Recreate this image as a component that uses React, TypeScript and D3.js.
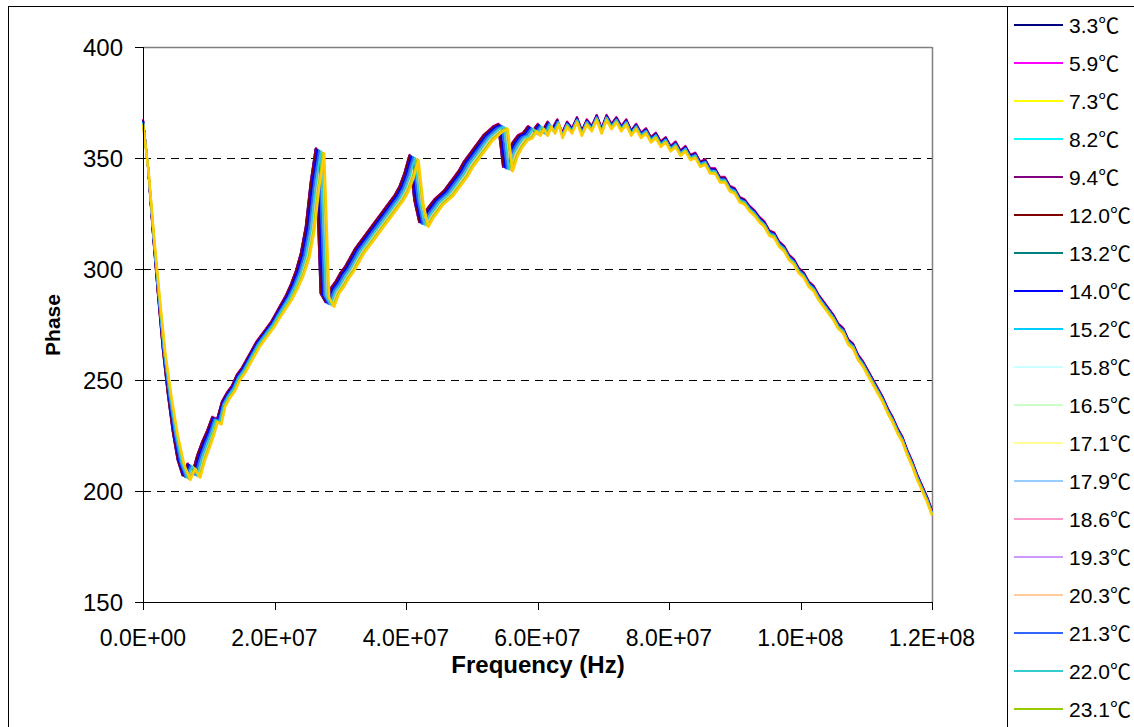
import * as d3 from "d3";

// legend labels (the picture's legend is cut off after 23.1℃)
const tempLabels = [
  "3.3", "5.9", "7.3", "8.2", "9.4", "12.0", "13.2", "14.0", "15.2", "15.8",
  "16.5", "17.1", "17.9", "18.6", "19.3", "20.3", "21.3", "22.0", "23.1",
];

// series colours, last one (gold) has no visible legend entry
const seriesColors = [
  "#000080", "#FF00FF", "#FFFF00", "#00FFFF", "#800080", "#800000", "#008080", "#0000FF",
  "#00CCFF", "#CCFFFF", "#CCFFCC", "#FFFF99", "#99CCFF", "#FF99CC", "#CC99FF", "#FFCC99",
  "#3366FF", "#33CCCC", "#99CC00", "#FFCC00",
];

// how far each series' resonances sit to the right of the earliest one (0..1 of the lag profile)
const seriesLag = [
  0, 0.05, 0.1, 0.35, 0, 0.05, 0.3, 0.2, 0.5, 0.55,
  0.6, 0.65, 0.6, 0.55, 0.7, 0.75, 0.4, 0.6, 0.9, 1.0,
];
// small vertical spread of the bundle
const seriesOffset = [
  1.2, 1.5, 1.0, 0.6, 1.0, 1.2, 0.4, 0.8, 0.2, 0, -0.2, -0.2, 0, 0, -0.4, -0.3, 0.3, 0, -0.6, -1.0,
];

// lag of the resonance features (MHz) along the sweep
const lagAnchorMHz = [0, 3, 6, 9, 12, 20, 24, 58, 64, 120];
const lagMHz = [0, 0.4, 1.2, 1.2, 0.5, 0.5, 1.3, 1.5, 0, 0];

// sweep step and phase of the earliest series, 0 .. 120 MHz
const freqStepMHz = 0.75;
const basePhase = [
  366, 345, 315, 288, 263, 243, 226, 213, 206, 211,
  207, 215, 221, 226, 232, 231, 239, 243, 246, 251,
  254, 258, 262, 266, 269, 272, 275, 279, 283, 287,
  292, 298, 306, 318, 338, 353, 288, 284, 290, 293,
  297, 300, 304, 308, 311, 314, 317, 320, 323, 326,
  329, 332, 336, 342, 350, 330, 320, 324, 327, 330,
  332, 334, 337, 340, 343, 347, 350, 353, 356, 359,
  361, 363, 364, 345, 352, 356, 359, 360, 363, 361,
  364, 361, 365, 362, 366, 360, 365, 362, 367, 361,
  366, 363, 368, 362, 368, 364, 367, 363, 366, 361,
  364, 360, 362, 358, 360, 356, 358, 354, 356, 352,
  354, 350, 351, 347, 348, 344, 344, 340, 340, 336,
  335, 331, 330, 327, 325, 322, 320, 316, 315, 311,
  309, 305, 303, 299, 297, 293, 291, 287, 284, 281,
  278, 274, 272, 267, 265, 260, 257, 253, 249, 245,
  241, 236, 232, 227, 223, 217, 212, 206, 201, 196,
  190,
];

const xTicks = [0, 2e7, 4e7, 6e7, 8e7, 1e8, 1.2e8];
const yTicks = [150, 200, 250, 300, 350, 400];
const gridValues = [200, 250, 300, 350];

const W = 1134;
const H = 727;
const plot = { left: 143, top: 47, right: 932, bottom: 602 };
const font = "'Liberation Sans', Arial, sans-serif";

const fmtExp = (v: number) => {
  const [m, e] = v.toExponential(1).split("e");
  return `${m}E${e[0]}${e.slice(1).padStart(2, "0")}`;
};

export default function App() {
  const x = d3.scaleLinear().domain([0, 1.2e8]).range([plot.left, plot.right]);
  const y = d3.scaleLinear().domain([150, 400]).range([plot.bottom, plot.top]);
  const lag = d3.scaleLinear().domain(lagAnchorMHz).range(lagMHz).clamp(true);

  const line = d3
    .line<{ f: number; p: number }>()
    .x((d) => x(d.f))
    .y((d) => y(d.p));

  const series = seriesColors.map((color, s) => ({
    color,
    points: basePhase.map((p, i) => {
      const f = i * freqStepMHz;
      return { f: (f + seriesLag[s] * lag(f)) * 1e6, p: p + seriesOffset[s] };
    }),
  }));

  const legendX = 1007;
  const legendTop = 25;
  const legendStep = 38;

  return (
    <svg
      width={W}
      height={H}
      style={{ position: "absolute", left: 0, top: 0, background: "#fff" }}
    >
      <rect x={0} y={0} width={W} height={H} fill="#fff" />
      {/* chart area frame */}
      <rect x={8.5} y={6.5} width={1300} height={900} fill="none" stroke="#000" strokeWidth={1} />
      <line x1={legendX + 0.5} x2={legendX + 0.5} y1={6} y2={H} stroke="#000" />

      {/* grid */}
      {gridValues.map((v) => (
        <line
          key={v}
          x1={plot.left}
          x2={plot.right}
          y1={Math.round(y(v)) + 0.5}
          y2={Math.round(y(v)) + 0.5}
          stroke="#000"
          strokeDasharray="8,6"
        />
      ))}
      {/* plot border top/right */}
      <line x1={plot.left} x2={plot.right} y1={plot.top + 0.5} y2={plot.top + 0.5} stroke="#808080" strokeWidth={1.5} />
      <line x1={plot.right + 0.5} x2={plot.right + 0.5} y1={plot.top} y2={plot.bottom} stroke="#808080" strokeWidth={1.5} />

      {/* series */}
      {series.map((s, i) => (
        <path
          key={i}
          d={line(s.points) || ""}
          fill="none"
          stroke={s.color}
          strokeWidth={i === series.length - 1 ? 2.5 : 2}
          strokeLinejoin="round"
        />
      ))}

      {/* axes */}
      <line x1={plot.left + 0.5} x2={plot.left + 0.5} y1={plot.top} y2={plot.bottom} stroke="#000" />
      <line x1={plot.left} x2={plot.right} y1={plot.bottom + 0.5} y2={plot.bottom + 0.5} stroke="#000" />
      {yTicks.map((v) => (
        <g key={v}>
          <line x1={plot.left - 8} x2={plot.left} y1={Math.round(y(v)) + 0.5} y2={Math.round(y(v)) + 0.5} stroke="#000" />
          <text
            x={123}
            y={y(v)}
            dy="0.36em"
            textAnchor="end"
            fontFamily={font}
            fontSize={24}
            fill="#000"
          >
            {v}
          </text>
        </g>
      ))}
      {xTicks.map((v) => (
        <g key={v}>
          <line x1={Math.round(x(v)) + 0.5} x2={Math.round(x(v)) + 0.5} y1={plot.bottom} y2={plot.bottom + 8} stroke="#000" />
          <text x={x(v)} y={646} textAnchor="middle" fontFamily={font} fontSize={23} fill="#000">
            {fmtExp(v)}
          </text>
        </g>
      ))}

      {/* axis titles */}
      <text
        x={538}
        y={673}
        textAnchor="middle"
        fontFamily={font}
        fontSize={24}
        fontWeight="bold"
      >
        Frequency (Hz)
      </text>
      <text
        transform="translate(60,325) rotate(-90)"
        textAnchor="middle"
        fontFamily={font}
        fontSize={21}
        fontWeight="bold"
      >
        Phase
      </text>

      {/* legend */}
      {tempLabels.map((label, i) => {
        const ly = legendTop + i * legendStep;
        return (
          <g key={label}>
            <line x1={1014} x2={1063} y1={ly} y2={ly} stroke={seriesColors[i]} strokeWidth={2} />
            <text x={1069} y={ly} dy="0.36em" fontFamily={font} fontSize={21} fill="#000">
              {label}
              <tspan fontFamily="'Noto Sans CJK SC', sans-serif">℃</tspan>
            </text>
          </g>
        );
      })}
    </svg>
  );
}
